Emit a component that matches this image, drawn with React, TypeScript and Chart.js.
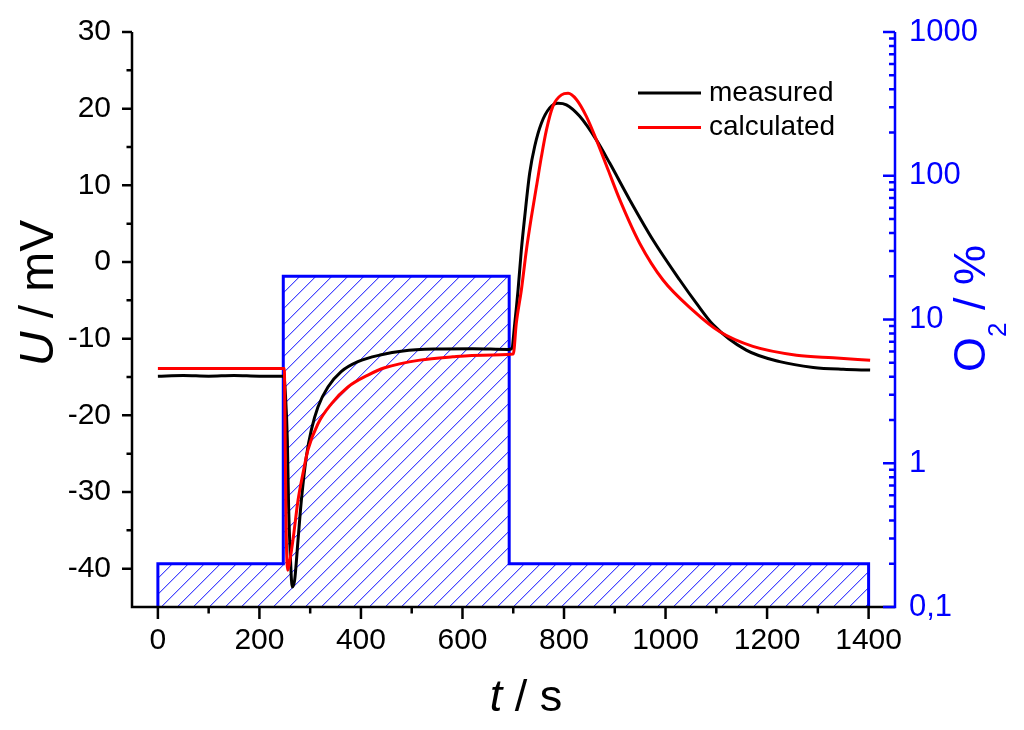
import React, { useEffect, useRef } from 'react';
import { Chart, registerables } from 'chart.js';

Chart.register(...registerables);

const FONT = '"Liberation Sans", Arial, Helvetica, sans-serif';
const BLUE = '#0000ff';

// ---- data ----
const measuredT = [0, 50, 100, 150, 200, 248, 251, 255, 257.5, 261, 264.6, 269.4, 276, 282.6, 292.4, 302.3, 315.3, 335, 361, 394, 440, 483, 548, 620, 690, 697, 703, 709.5, 716, 722.6, 732.4, 742.3, 755.4, 771.8, 788, 804.7, 831, 864, 890, 929.5, 975, 1028, 1061, 1094, 1159, 1225, 1291, 1350, 1403];
const measuredU = [-14.9, -14.8, -14.9, -14.8, -14.9, -14.9, -17, -23.2, -32, -38.5, -42.4, -41.5, -36.3, -31.1, -25.4, -21.9, -18.9, -16.3, -14.3, -13.0, -12.1, -11.6, -11.35, -11.3, -11.4, -11.3, -8.0, -3.65, 1.6, 5.9, 11.6, 15.1, 18.1, 20.1, 20.7, 20.5, 19, 15.9, 12.9, 8.1, 2.9, -2.35, -5.4, -8.2, -11.5, -13, -13.75, -14.0, -14.1];

const calculatedT = [0, 100, 200, 249, 251, 253, 256, 261, 266, 276, 285.7, 295.6, 315.3, 341.7, 374.4, 413.8, 446.7, 516, 581, 640, 700, 706, 716, 726, 735.8, 745.6, 755.5, 765.3, 778, 795, 808, 824.4, 844, 864, 887, 910, 949, 995, 1054, 1107, 1172, 1258, 1330, 1403];
const calculatedU = [-13.9, -13.9, -13.9, -13.9, -25, -36, -40.2, -38.5, -36.3, -31.1, -27.6, -24.5, -21.1, -18.5, -16.3, -14.75, -13.8, -12.8, -12.37, -12.15, -12.0, -8.0, -3.65, 1.6, 5.9, 9.8, 13.75, 17.2, 20.3, 21.8, 22.0, 21.2, 19, 15.9, 12.0, 8.1, 2.45, -2.35, -6.3, -9.1, -11, -12.15, -12.5, -12.8];

const o2T = [0, 0, 247, 247, 692, 692, 1400, 1400];
const o2Pct = [0.1, 0.2, 0.2, 20, 20, 0.2, 0.2, 0.1];

const xTicks = [0, 200, 400, 600, 800, 1000, 1200, 1400];
const xMinorTicks = [100, 300, 500, 700, 900, 1100, 1300];
const uTicks = [-40, -30, -20, -10, 0, 10, 20, 30];
const uMinorTicks = [-35, -25, -15, -5, 5, 15, 25];
const o2Ticks = [0.1, 1, 10, 100, 1000];
const o2MinorTicks = [0.2, 0.3, 0.4, 0.5, 0.6, 0.7, 0.8, 0.9, 2, 3, 4, 5, 6, 7, 8, 9, 20, 30, 40, 50, 60, 70, 80, 90, 200, 300, 400, 500, 600, 700, 800, 900];

const seriesLabels = ['measured', 'calculated'];
const seriesColors = ['#000000', '#ff0000'];

function makeHatch(): CanvasPattern | string {
  const n = 16;
  const c = document.createElement('canvas');
  c.width = n;
  c.height = n;
  const g = c.getContext('2d');
  if (!g) return 'rgba(0,0,255,0.2)';
  g.clearRect(0, 0, n, n);
  for (let i = 0; i < n; i++) {
    g.fillStyle = 'rgba(40,40,255,0.85)';
    g.fillRect(i, n - 1 - i, 1, 1);
    g.fillStyle = 'rgba(0,0,255,0.25)';
    g.fillRect((i + 1) % n, n - 1 - i, 1, 1);
  }
  return g.createPattern(c, 'repeat') || 'rgba(0,0,255,0.2)';
}

const axesPlugin = {
  id: 'customAxes',
  afterDatasetsDraw(chart: any) {
    const { ctx, chartArea: a, scales } = chart;
    const x = scales.x, y = scales.y, y2 = scales.y2;
    ctx.save();
    ctx.lineCap = 'butt';
    ctx.lineWidth = 2.5;
    ctx.strokeStyle = '#000';
    ctx.beginPath();
    ctx.moveTo(a.left - 1.25, a.bottom);
    ctx.lineTo(a.right, a.bottom);
    ctx.moveTo(a.left, a.top);
    ctx.lineTo(a.left, a.bottom + 1.25);
    xTicks.forEach((v) => {
      const p = x.getPixelForValue(v);
      ctx.moveTo(p, a.bottom);
      ctx.lineTo(p, a.bottom + 12);
    });
    xMinorTicks.forEach((v) => {
      const p = x.getPixelForValue(v);
      ctx.moveTo(p, a.bottom);
      ctx.lineTo(p, a.bottom + 6.5);
    });
    uTicks.forEach((v) => {
      const p = y.getPixelForValue(v);
      ctx.moveTo(a.left, p);
      ctx.lineTo(a.left - 10, p);
    });
    uMinorTicks.forEach((v) => {
      const p = y.getPixelForValue(v);
      ctx.moveTo(a.left, p);
      ctx.lineTo(a.left - 5.5, p);
    });
    ctx.stroke();

    ctx.strokeStyle = BLUE;
    ctx.beginPath();
    ctx.moveTo(a.right, a.top);
    ctx.lineTo(a.right, a.bottom + 1.25);
    o2Ticks.forEach((v) => {
      const p = y2.getPixelForValue(v);
      ctx.moveTo(a.right, p);
      ctx.lineTo(a.right - 12, p);
    });
    o2MinorTicks.forEach((v) => {
      const p = y2.getPixelForValue(v);
      ctx.moveTo(a.right, p);
      ctx.lineTo(a.right - 6, p);
    });
    ctx.stroke();

    // legend
    ctx.lineWidth = 3;
    ctx.font = `28px ${FONT}`;
    ctx.textBaseline = 'middle';
    ctx.textAlign = 'left';
    seriesLabels.forEach((lab, i) => {
      const ly = 93 + i * 34.6;
      ctx.strokeStyle = seriesColors[i];
      ctx.beginPath();
      ctx.moveTo(638, ly);
      ctx.lineTo(701, ly);
      ctx.stroke();
      ctx.fillStyle = '#000';
      ctx.fillText(lab, 709, ly);
    });
    ctx.restore();
  },
  afterDraw(chart: any) {
    const { ctx } = chart;
    ctx.save();
    ctx.textBaseline = 'alphabetic';
    ctx.textAlign = 'left';

    // left title: U / mV
    ctx.fillStyle = '#000';
    ctx.save();
    ctx.translate(53, 293);
    ctx.rotate(-Math.PI / 2);
    const fi = `italic 48px ${FONT}`;
    const fn = `48px ${FONT}`;
    ctx.font = fi;
    const w1 = ctx.measureText('U').width;
    ctx.font = fn;
    const w2 = ctx.measureText(' / mV').width;
    const sx = -(w1 + w2) / 2;
    ctx.font = fi;
    ctx.fillText('U', sx, 0);
    ctx.font = fn;
    ctx.fillText(' / mV', sx + w1, 0);
    ctx.restore();

    // bottom title: t / s
    const bi = `italic 45px ${FONT}`;
    const bn = `45px ${FONT}`;
    ctx.font = bi;
    const b1 = ctx.measureText('t').width;
    ctx.font = bn;
    const b2 = ctx.measureText(' / s').width;
    const bx = 526 - (b1 + b2) / 2;
    ctx.font = bi;
    ctx.fillText('t', bx, 711);
    ctx.font = bn;
    ctx.fillText(' / s', bx + b1, 711);

    // right title: O2 / %
    ctx.fillStyle = BLUE;
    ctx.save();
    ctx.translate(985, 372);
    ctx.rotate(-Math.PI / 2);
    ctx.font = `45px ${FONT}`;
    const wo = ctx.measureText('O').width;
    ctx.fillText('O', 0, 0);
    ctx.font = `26px ${FONT}`;
    const ws = ctx.measureText('2').width;
    ctx.fillText('2', wo, 21);
    ctx.font = `45px ${FONT}`;
    ctx.fillText(' / %', wo + ws, 0);
    ctx.restore();

    ctx.restore();
  },
};

export default function App() {
  const ref = useRef<HTMLCanvasElement | null>(null);

  useEffect(() => {
    document.body.style.margin = '0';
    const canvas = ref.current;
    if (!canvas) return;
    Chart.defaults.font.family = FONT;
    const hatch = makeHatch();

    const chart = new Chart(canvas, {
      type: 'line',
      data: {
        datasets: [
          {
            label: seriesLabels[0],
            data: measuredT.map((t, i) => ({ x: t, y: measuredU[i] })),
            borderColor: seriesColors[0],
            borderWidth: 3,
            pointRadius: 0,
            cubicInterpolationMode: 'monotone',
            fill: false,
            yAxisID: 'y',
            order: 1,
          },
          {
            label: seriesLabels[1],
            data: calculatedT.map((t, i) => ({ x: t, y: calculatedU[i] })),
            borderColor: seriesColors[1],
            borderWidth: 3,
            pointRadius: 0,
            cubicInterpolationMode: 'monotone',
            fill: false,
            yAxisID: 'y',
            order: 0,
          },
          {
            label: 'O2',
            data: o2T.map((t, i) => ({ x: t, y: o2Pct[i] })),
            borderColor: BLUE,
            borderWidth: 3,
            pointRadius: 0,
            tension: 0,
            backgroundColor: hatch as any,
            fill: 'start',
            yAxisID: 'y2',
            order: 2,
          },
        ],
      },
      options: {
        animation: false,
        responsive: false,
        layout: { padding: { top: 32, left: 0, right: 0, bottom: 0 } },
        plugins: {
          legend: { display: false },
          tooltip: { enabled: false },
        },
        scales: {
          x: {
            type: 'linear',
            position: 'bottom',
            min: -51,
            max: 1452,
            grid: { display: false, drawTicks: false, tickLength: 0 },
            border: { display: false },
            ticks: {
              color: '#000',
              font: { size: 30, family: FONT },
              padding: 16,
              autoSkip: false,
              maxRotation: 0,
              callback: (v: any) => String(v),
            },
            afterBuildTicks: (s: any) => {
              s.ticks = xTicks.map((v) => ({ value: v }));
            },
            afterFit: (s: any) => {
              s.height = 123;
              s.paddingLeft = 0;
              s.paddingRight = 0;
            },
          },
          y: {
            type: 'linear',
            position: 'left',
            min: -45,
            max: 30,
            grid: { display: false, drawTicks: false, tickLength: 0 },
            border: { display: false },
            ticks: {
              color: '#000',
              font: { size: 30, family: FONT },
              padding: 21,
              autoSkip: false,
              callback: (v: any) => String(v),
            },
            afterBuildTicks: (s: any) => {
              s.ticks = uTicks.map((v) => ({ value: v }));
            },
            afterFit: (s: any) => {
              s.width = 132;
              s.paddingTop = 0;
              s.paddingBottom = 0;
            },
          },
          y2: {
            type: 'logarithmic',
            position: 'right',
            min: 0.1,
            max: 1000,
            grid: { display: false, drawTicks: false, tickLength: 0 },
            border: { display: false },
            ticks: {
              color: BLUE,
              font: { size: 31, family: FONT },
              padding: 14,
              autoSkip: false,
              callback: (v: any) => (Number(v) === 0.1 ? '0,1' : String(v)),
            },
            afterBuildTicks: (s: any) => {
              s.ticks = o2Ticks.map((v) => ({ value: v }));
            },
            afterFit: (s: any) => {
              s.width = 129;
              s.paddingTop = 0;
              s.paddingBottom = 0;
            },
          },
        },
      },
      plugins: [axesPlugin],
    } as any);

    return () => {
      chart.destroy();
    };
  }, []);

  return (
    <div style={{ width: 1024, height: 730, background: '#fff' }}>
      <canvas ref={ref} width={1024} height={730} style={{ display: 'block', width: 1024, height: 730 }} />
    </div>
  );
}
